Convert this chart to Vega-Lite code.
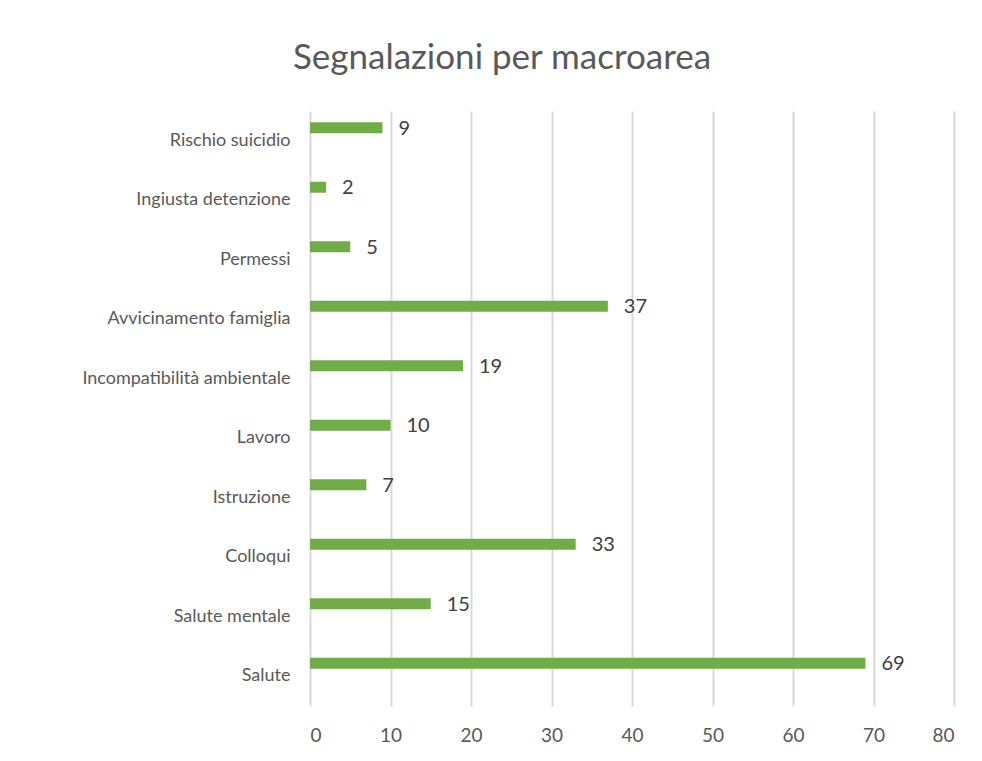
{
  "$schema": "https://vega.github.io/schema/vega-lite/v6.json",
  "width": 644,
  "height": 595,
  "autosize": {"type": "none"},
  "padding": {"left": 310, "top": 111, "right": 28, "bottom": 55},
  "background": "white",
  "title": {
    "text": "Segnalazioni per macroarea",
    "font": "Lato",
    "fontSize": 35,
    "fontWeight": "normal",
    "color": "#595959",
    "anchor": "middle",
    "baseline": "alphabetic",
    "offset": 7,
    "dx": -130
  },
  "data": {
    "values": [
      {"categoria": "Rischio suicidio", "valore": 9},
      {"categoria": "Ingiusta detenzione", "valore": 2},
      {"categoria": "Permessi", "valore": 5},
      {"categoria": "Avvicinamento famiglia", "valore": 37},
      {"categoria": "Incompatibilità ambientale", "valore": 19},
      {"categoria": "Lavoro", "valore": 10},
      {"categoria": "Istruzione", "valore": 7},
      {"categoria": "Colloqui", "valore": 33},
      {"categoria": "Salute mentale", "valore": 15},
      {"categoria": "Salute", "valore": 69}
    ]
  },
  "encoding": {
    "y": {
      "field": "categoria",
      "type": "nominal",
      "sort": null,
      "scale": {"paddingInner": 0, "paddingOuter": 0},
      "axis": {
        "title": null,
        "domain": false,
        "ticks": false,
        "grid": false,
        "labelFont": "Lato",
        "labelFontSize": 18,
        "labelColor": "#595959",
        "labelPadding": 20,
        "labelLimit": 400
      }
    },
    "x": {
      "field": "valore",
      "type": "quantitative",
      "scale": {"domain": [0, 80], "nice": false},
      "axis": {
        "title": null,
        "values": [0, 10, 20, 30, 40, 50, 60, 70, 80],
        "domain": false,
        "ticks": false,
        "grid": true,
        "gridColor": "#d9d9d9",
        "gridWidth": 2,
        "labelFont": "Lato",
        "labelFontSize": 19,
        "labelColor": "#595959",
        "labelPadding": 20
      }
    }
  },
  "layer": [
    {
      "mark": {"type": "bar", "color": "#70AD47", "height": 11, "yOffset": -13}
    },
    {
      "mark": {
        "type": "text",
        "font": "Lato",
        "fontSize": 20,
        "color": "#404040",
        "align": "left",
        "baseline": "middle",
        "dx": 16,
        "yOffset": -12
      },
      "encoding": {"text": {"field": "valore", "type": "quantitative"}}
    }
  ],
  "config": {"view": {"stroke": null}}
}
